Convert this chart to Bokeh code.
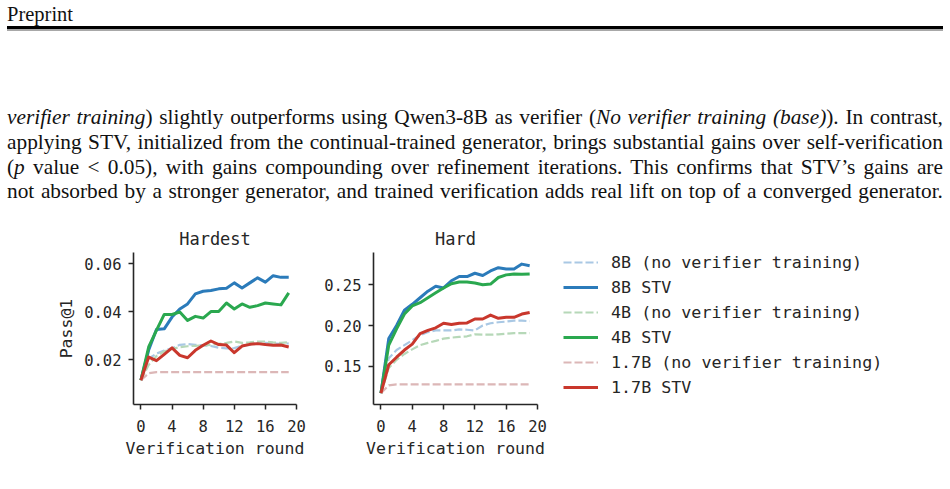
from bokeh.plotting import figure
from bokeh.models import (Range1d, FixedTicker, PrintfTickFormatter, Legend,
                          LegendItem, Div, ColumnDataSource)
from bokeh.layouts import column, row
from bokeh.embed import file_html
from bokeh.resources import INLINE

# ---------------- data ----------------
rounds = list(range(20))
x_ticks = [0, 4, 8, 12, 16, 20]

series_labels = ["8B (no verifier training)", "8B STV",
                 "4B (no verifier training)", "4B STV",
                 "1.7B (no verifier training)", "1.7B STV"]

# Hardest split
hardest_8b_base = [0.0114, 0.0205, 0.0225, 0.0238, 0.0248, 0.0262, 0.0265, 0.0262, 0.0260, 0.0257,
                   0.0250, 0.0247, 0.0248, 0.0258, 0.0262, 0.0268, 0.0270, 0.0268, 0.0266, 0.0268]
hardest_8b_stv = [0.0114, 0.0240, 0.0326, 0.0329, 0.0378, 0.0412, 0.0433, 0.0475, 0.0486, 0.0489,
                  0.0496, 0.0499, 0.0521, 0.0500, 0.0521, 0.0542, 0.0524, 0.0551, 0.0544, 0.0544]
hardest_4b_base = [0.0114, 0.0178, 0.0215, 0.0235, 0.0245, 0.0252, 0.0256, 0.0258, 0.0260, 0.0262,
                   0.0266, 0.0270, 0.0276, 0.0270, 0.0272, 0.0276, 0.0276, 0.0272, 0.0270, 0.0273]
hardest_4b_stv = [0.0114, 0.0253, 0.0322, 0.0389, 0.0389, 0.0399, 0.0364, 0.0381, 0.0374, 0.0401,
                  0.0401, 0.0437, 0.0412, 0.0433, 0.0419, 0.0426, 0.0437, 0.0433, 0.0429, 0.0479]
hardest_17b_base = [0.0114, 0.0143, 0.0148, 0.0148, 0.0148, 0.0148, 0.0148, 0.0148, 0.0148, 0.0148,
                    0.0148, 0.0148, 0.0148, 0.0148, 0.0148, 0.0148, 0.0148, 0.0148, 0.0148, 0.0148]
hardest_17b_stv = [0.0114, 0.0211, 0.0196, 0.0222, 0.0249, 0.0218, 0.0208, 0.0239, 0.0260, 0.0278,
                   0.0263, 0.0261, 0.0229, 0.0257, 0.0264, 0.0267, 0.0263, 0.0260, 0.0261, 0.0253]
hardest_y_ticks = [0.02, 0.04, 0.06]

# Hard split
hard_8b_base = [0.1172, 0.160, 0.170, 0.176, 0.182, 0.188, 0.192, 0.194, 0.194, 0.194,
                0.1952, 0.1948, 0.194, 0.200, 0.2028, 0.204, 0.2048, 0.206, 0.206, 0.2052]
hard_8b_stv = [0.1172, 0.184, 0.200, 0.2188, 0.226, 0.234, 0.242, 0.248, 0.246, 0.2548,
               0.260, 0.260, 0.264, 0.2612, 0.2668, 0.2708, 0.2692, 0.2692, 0.2752, 0.2732]
hard_4b_base = [0.1172, 0.148, 0.158, 0.1652, 0.1708, 0.176, 0.1788, 0.1812, 0.184, 0.1852,
                0.186, 0.1868, 0.1892, 0.1888, 0.1888, 0.1892, 0.190, 0.1908, 0.1908, 0.1908]
hard_4b_stv = [0.1172, 0.176, 0.196, 0.214, 0.224, 0.228, 0.234, 0.240, 0.246, 0.2512,
               0.2532, 0.2532, 0.252, 0.250, 0.2508, 0.2588, 0.262, 0.2632, 0.2628, 0.2632]
hard_17b_base = [0.1172, 0.1268, 0.128, 0.128, 0.128, 0.128, 0.128, 0.128, 0.128, 0.128,
                 0.128, 0.128, 0.128, 0.128, 0.128, 0.128, 0.128, 0.128, 0.128, 0.128]
hard_17b_stv = [0.1172, 0.152, 0.1612, 0.170, 0.1772, 0.190, 0.194, 0.1972, 0.2028, 0.2012,
                0.2028, 0.2032, 0.208, 0.208, 0.2128, 0.2088, 0.210, 0.210, 0.214, 0.216]
hard_y_ticks = [0.15, 0.20, 0.25]

header_text = "Preprint"
paragraph_lines = [
    "<i>verifier training</i>) slightly outperforms using Qwen3-8B as verifier (<i>No verifier training (base)</i>). In contrast,",
    "applying STV, initialized from the continual-trained generator, brings substantial gains over self-verification",
    "(<i>p</i> value &lt; 0.05), with gains compounding over refinement iterations. This confirms that STV\u2019s gains are",
    "not absorbed by a stronger generator, and trained verification adds real lift on top of a converged generator.",
]

# ---------------- styles ----------------
BLUE = "#2b7bba"
GREEN = "#2aa84f"
RED = "#c9372c"
INK = "#262626"
MONO = "DejaVu Sans Mono"
styles = [  # color, dash, alpha, width
    ("#a9c8e4", "8 3", 1.0, 2.2),
    (BLUE, "solid", 1.0, 3.0),
    ("#b6d8b8", "8 3", 1.0, 2.2),
    (GREEN, "solid", 1.0, 3.0),
    ("#dcb7b7", "8 3", 1.0, 2.2),
    (RED, "solid", 1.0, 3.0),
]


def make_chart(title, ylo, yhi, yticks, series, fw, left, right, ylabel=None):
    p = figure(frame_width=fw, frame_height=152, x_range=Range1d(-0.95, 20.0),
               y_range=Range1d(ylo, yhi), output_backend="svg", toolbar_location=None,
               min_border_left=left, min_border_right=right, min_border_top=37,
               min_border_bottom=85, title=title)
    p.background_fill_color = "white"
    p.border_fill_color = "white"
    p.outline_line_color = None
    p.grid.visible = False
    p.title.align = "center"
    p.title.text_font = MONO
    p.title.text_font_size = "17px"
    p.title.text_font_style = "normal"
    p.title.text_color = INK
    p.title.standoff = 7
    for ax in (p.xaxis[0], p.yaxis[0]):
        ax.axis_line_color = INK
        ax.axis_line_width = 1.6
        ax.major_tick_line_color = INK
        ax.major_tick_line_width = 1.5
        ax.major_tick_out = 5
        ax.major_tick_in = 0
        ax.minor_tick_line_color = None
        ax.major_label_text_font = MONO
        ax.major_label_text_font_size = "15.5px"
        ax.major_label_text_color = INK
        ax.axis_label_text_font = MONO
        ax.axis_label_text_font_size = "16.5px"
        ax.axis_label_text_font_style = "normal"
        ax.axis_label_text_color = INK
    p.xaxis.major_label_standoff = 10
    p.xaxis.axis_label_standoff = 4
    p.yaxis.major_label_standoff = 7
    p.yaxis.axis_label_standoff = 5
    p.xaxis.ticker = FixedTicker(ticks=x_ticks)
    p.xaxis.axis_label = "Verification round"
    p.yaxis.ticker = FixedTicker(ticks=yticks)
    p.yaxis.formatter = PrintfTickFormatter(format="%.2f")
    if ylabel:
        p.yaxis.axis_label = ylabel
    for vals, (c, d, a, w) in zip(series, styles):
        p.line(rounds, vals, line_color=c, line_dash=d, line_alpha=a, line_width=w,
               line_join="round")
    return p


hardest_series = [hardest_8b_base, hardest_8b_stv, hardest_4b_base, hardest_4b_stv,
                  hardest_17b_base, hardest_17b_stv]
hard_series = [hard_8b_base, hard_8b_stv, hard_4b_base, hard_4b_stv,
               hard_17b_base, hard_17b_stv]

p1 = make_chart("Hardest", 0.00125, 0.0648, hardest_y_ticks, hardest_series, 163, 133, 10, "Pass@1")
p2 = make_chart("Hard", 0.1033, 0.2894, hard_y_ticks, hard_series, 164, 67, 10)

# legend panel: frame starts where the legend's top-left corner goes.
# Each legend renderer holds only the series' first point (a one-point line draws nothing).
lf = figure(width=403, height=274, output_backend="svg", toolbar_location=None,
            min_border_left=16, min_border_top=30, min_border_right=0, min_border_bottom=0,
            x_range=Range1d(0, 1), y_range=Range1d(0, 1),
            x_axis_location=None, y_axis_location=None)
lf.grid.visible = False
lf.outline_line_color = None
lf.background_fill_color = "white"
lf.border_fill_color = "white"
items = []
for lab, vals, (c, d, a, w) in zip(series_labels, hard_series, styles):
    src = ColumnDataSource(data=dict(x=rounds[:1], y=vals[:1]))
    r = lf.line("x", "y", source=src, line_color=c, line_dash=d, line_alpha=a, line_width=w)
    items.append(LegendItem(label=lab, renderers=[r]))
legend = Legend(items=items, location="top_left", margin=0, padding=0,
                glyph_width=35, glyph_height=20, label_height=20, spacing=5,
                label_standoff=13, label_text_font=MONO, label_text_font_size="16.7px",
                label_text_color=INK, border_line_color=None, background_fill_alpha=0)
lf.add_layout(legend)

# header + paragraph
SX = 0.97
line_tops = [104.9, 129.8, 154.7, 179.4]
parts = []
for t, txt in zip(line_tops, paragraph_lines):
    parts.append(
        f'<div style="position:absolute;left:7px;top:{t}px;width:{936/SX:.1f}px;'
        f'font-size:22px;line-height:24.7px;text-align:justify;text-align-last:justify;'
        f'transform:scaleX({SX});transform-origin:0 0;">{txt}</div>')
html = (
    '<div style="position:relative;width:950px;height:215px;'
    "font-family:'Liberation Serif',serif;color:#111;\">"
    f'<div style="position:absolute;left:7px;top:4.3px;font-size:20.5px;line-height:20.5px;'
    f'white-space:nowrap;">{header_text}</div>'
    '<div style="position:absolute;left:7px;top:26px;width:936px;height:3px;background:#000;"></div>'
    '<div style="position:absolute;left:7px;top:29px;width:936px;height:2px;background:#a8a8a8;"></div>'
    + "".join(parts) + "</div>"
)
top = Div(text=html, width=950, height=215, margin=0)

layout = column(top, row(p1, p2, lf, spacing=0), spacing=0)

open("out.html", "w").write(file_html(layout, INLINE))
